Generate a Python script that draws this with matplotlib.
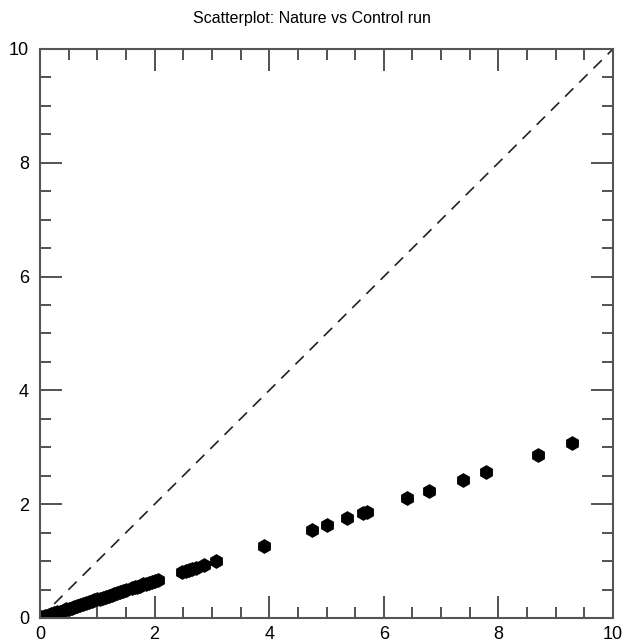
import matplotlib
matplotlib.use("Agg")
import matplotlib.pyplot as plt
from matplotlib.ticker import MultipleLocator

plt.rcParams['font.family'] = ['Liberation Sans', 'DejaVu Sans']

title = "Scatterplot: Nature vs Control run"
nature = [0.02, 0.05, 0.08, 0.12, 0.16, 0.20, 0.25, 0.30, 0.35, 0.40, 0.45, 0.50,
          0.55, 0.60, 0.65, 0.70, 0.75, 0.80, 0.85, 0.90, 0.95, 1.00, 1.05, 1.10,
          1.15, 1.20, 1.25, 1.30, 1.35, 1.40, 1.45, 1.50,
          1.60, 1.65, 1.70, 1.75, 1.80, 1.85, 1.90, 1.95, 2.00, 2.06,
          2.48, 2.54, 2.60, 2.66, 2.72, 2.87, 3.07,
          3.91, 4.75, 5.00, 5.35, 5.64, 5.70, 6.40, 6.79, 7.38, 7.78, 8.69, 9.29]
control = [0.01, 0.02, 0.03, 0.04, 0.05, 0.07, 0.08, 0.10, 0.11, 0.13, 0.15, 0.16,
           0.18, 0.20, 0.21, 0.23, 0.25, 0.26, 0.28, 0.29, 0.31, 0.33, 0.34, 0.36,
           0.37, 0.39, 0.41, 0.42, 0.44, 0.46, 0.47, 0.49,
           0.52, 0.54, 0.55, 0.57, 0.59, 0.60, 0.62, 0.64, 0.65, 0.67,
           0.80, 0.82, 0.84, 0.86, 0.88, 0.93, 1.00,
           1.27, 1.55, 1.63, 1.75, 1.84, 1.87, 2.10, 2.23, 2.43, 2.57, 2.86, 3.07]
diag = [0, 10]

fig = plt.figure(figsize=(6.23, 6.42), dpi=100)
ax = fig.add_axes([0.0642, 0.0374, 0.9198, 0.8863])

ax.plot(diag, diag, linestyle=(0, (7, 5)), color='#222222', linewidth=1.2)
ax.plot(nature, control, linestyle='none', marker='h', markersize=9.5,
        color='black', markeredgecolor='black')

ax.set_xlim(0, 10)
ax.set_ylim(0, 10)
ax.xaxis.set_major_locator(MultipleLocator(2))
ax.yaxis.set_major_locator(MultipleLocator(2))
ax.xaxis.set_minor_locator(MultipleLocator(0.5))
ax.yaxis.set_minor_locator(MultipleLocator(0.5))
ax.tick_params(which='both', direction='in', top=True, right=True,
               color='#444444', width=1.3, labelsize=13)
ax.tick_params(which='major', length=16, pad=6)
ax.tick_params(which='minor', length=8)
ax.tick_params(axis='y', which='major', pad=8)
for s in ax.spines.values():
    s.set_color('#555555')
    s.set_linewidth(1.5)

fig.text(0.5, 0.971, title, ha='center', va='center', fontsize=11.5)

fig.savefig("out.png", dpi=100)
